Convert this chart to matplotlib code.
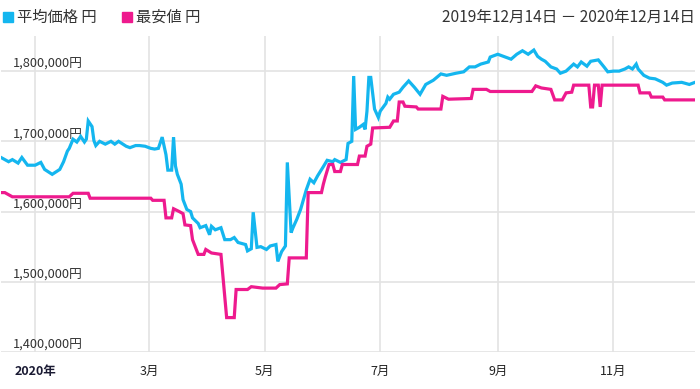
import matplotlib
matplotlib.use("Agg")
import matplotlib.pyplot as plt
import matplotlib.transforms as mtransforms
import pandas as pd

plt.rcParams['font.family'] = ['Noto Sans CJK JP', 'DejaVu Sans']

# 期間の開始日（日数はここからの経過日）
start = pd.Timestamp("2019-12-14")
end = pd.Timestamp("2020-12-14")

# 平均価格 (経過日, 千円)
avg_day = [0, 4, 6, 9, 11, 14, 18, 21, 23, 27, 31, 33, 35, 36, 38, 40, 42, 44, 45, 46,
           48, 49, 50, 52, 55, 58, 60, 62, 66, 68, 71, 73, 76, 79, 81, 83, 85, 87, 88, 90,
           91, 92, 93, 95, 96, 98, 100, 101, 104, 105, 108, 110, 111, 113, 116, 118, 121, 123, 125, 129,
           130, 132, 133, 135, 137, 140, 142, 145, 146, 148, 150, 151, 153, 154, 156, 158, 161, 163, 165, 167,
           170, 172, 175, 176, 179, 182, 183, 185, 186, 187, 189, 191, 192, 193, 194, 195, 197, 199, 200, 203,
           204, 205, 207, 210, 212, 215, 218, 221, 224, 228, 232, 235, 240, 244, 247, 250, 253, 257, 258, 262,
           265, 269, 272, 275, 278, 281, 283, 285, 287, 290, 293, 295, 298, 302, 304, 306, 309, 311, 315, 318,
           320, 323, 326, 329, 331, 333, 335, 336, 339, 342, 345, 349, 351, 354, 359, 363, 366]
avg_price = [1677, 1671, 1674, 1669, 1677, 1666, 1666, 1670, 1660, 1653, 1660, 1671, 1686, 1690, 1703, 1699, 1707, 1699, 1703, 1729,
             1721, 1701, 1694, 1700, 1696, 1700, 1696, 1700, 1693, 1691, 1694, 1694, 1693, 1690, 1689, 1690, 1706, 1681, 1659, 1659,
             1706, 1665, 1653, 1639, 1617, 1603, 1600, 1591, 1583, 1577, 1580, 1567, 1579, 1574, 1577, 1560, 1560, 1563, 1556, 1553,
             1544, 1547, 1599, 1549, 1550, 1546, 1551, 1553, 1529, 1543, 1551, 1670, 1570, 1577, 1589, 1603, 1631, 1646, 1641, 1651,
             1664, 1673, 1671, 1674, 1670, 1674, 1697, 1700, 1793, 1717, 1720, 1724, 1717, 1743, 1791, 1791, 1746, 1734, 1743, 1754,
             1763, 1760, 1767, 1770, 1777, 1786, 1777, 1767, 1781, 1787, 1796, 1794, 1797, 1799, 1806, 1806, 1810, 1813, 1820, 1824,
             1821, 1817, 1824, 1829, 1824, 1830, 1821, 1817, 1814, 1806, 1803, 1797, 1800, 1810, 1806, 1813, 1807, 1814, 1816, 1806,
             1799, 1800, 1800, 1803, 1806, 1803, 1810, 1803, 1794, 1790, 1789, 1784, 1780, 1783, 1784, 1781, 1784]

# 最安値 (経過日, 千円)
min_day = [0, 2, 4, 6, 36, 38, 46, 47, 79, 80, 86, 87, 90, 91, 94, 96, 97, 100, 101, 104,
           107, 108, 111, 116, 119, 123, 124, 130, 132, 138, 145, 147, 151, 152, 161, 162, 169, 170, 171, 173,
           175, 176, 179, 180, 188, 189, 192, 193, 195, 196, 205, 207, 209, 210, 212, 213, 219, 220, 232, 233,
           236, 248, 249, 256, 258, 280, 282, 285, 290, 292, 296, 298, 301, 302, 310, 311, 312, 313, 315, 316,
           317, 336, 337, 342, 343, 349, 350, 366]
min_price = [1627, 1627, 1624, 1621, 1621, 1626, 1626, 1619, 1619, 1616, 1616, 1591, 1591, 1604, 1600, 1597, 1581, 1580, 1560, 1539,
             1539, 1546, 1541, 1539, 1449, 1449, 1489, 1489, 1493, 1491, 1491, 1496, 1497, 1534, 1534, 1627, 1627, 1639, 1649, 1667,
             1667, 1657, 1657, 1667, 1667, 1679, 1679, 1693, 1696, 1719, 1720, 1729, 1729, 1756, 1756, 1750, 1749, 1746, 1746, 1764,
             1760, 1761, 1774, 1774, 1771, 1771, 1779, 1776, 1774, 1759, 1759, 1769, 1770, 1780, 1780, 1749, 1749, 1780, 1780, 1749,
             1780, 1780, 1769, 1769, 1763, 1763, 1759, 1759]

y_ticks = [1400000, 1500000, 1600000, 1700000, 1800000]
x_ticks = ["2020-01-01", "2020-03-01", "2020-05-01", "2020-07-01", "2020-09-01", "2020-11-01"]
x_labels = ["2020年", "3月", "5月", "7月", "9月", "11月"]

blue = '#14b6ef'
pink = '#ee1a8e'

avg_dates = start + pd.to_timedelta(avg_day, unit='D')
min_dates = start + pd.to_timedelta(min_day, unit='D')
avg_yen = [v * 1000 for v in avg_price]
min_yen = [v * 1000 for v in min_price]

fig = plt.figure(figsize=(7, 3.89), dpi=100)
ax = fig.add_axes([1 / 700, 37 / 389, 694 / 700, 316 / 389])

ax.plot(avg_dates, avg_yen, color=blue, lw=2.3, zorder=3, solid_joinstyle='miter')
ax.plot(min_dates, min_yen, color=pink, lw=2.3, zorder=3, solid_joinstyle='miter')

ax.set_xlim(start, end)
ax.set_ylim(1400000, 1850000)

# グリッド
ax.set_yticks(y_ticks)
ax.set_xticks(pd.to_datetime(x_ticks))
ax.grid(True, color='#e3e3e3', lw=1.2, zorder=0)
ax.tick_params(axis='both', length=0)
ax.set_yticklabels([])
ax.set_xticklabels(x_labels, fontsize=9, color='#222222')
ax.tick_params(axis='x', pad=9)
xl = ax.get_xticklabels()
xl[0].set_fontweight('bold')
xl[0].set_color('#1a1a33')
for s in ax.spines.values():
    s.set_visible(False)

# 縦軸ラベル（グラフ内）
trans = mtransforms.blended_transform_factory(ax.transAxes, ax.transData)
for v in y_ticks:
    ax.text(0.017, v, f"{v:,}円", transform=trans, fontsize=9.2, color='#333333',
            va='bottom', ha='left', zorder=2)

# 凡例
fig.patches.append(plt.Rectangle((3 / 700, 1 - 22 / 389), 10 / 700, 10 / 389,
                                 transform=fig.transFigure, color=blue))
fig.text(17 / 700, 1 - 17 / 389, "平均価格 円", fontsize=11, va='center', ha='left', color='#333333')
fig.patches.append(plt.Rectangle((122 / 700, 1 - 22 / 389), 10 / 700, 10 / 389,
                                 transform=fig.transFigure, color=pink))
fig.text(136 / 700, 1 - 17 / 389, "最安値 円", fontsize=11, va='center', ha='left', color='#333333')

fig.text(695 / 700, 1 - 17 / 389, "2019年12月14日 － 2020年12月14日", fontsize=11.2,
         va='center', ha='right', color='#333333')

fig.savefig("out.png", dpi=100, facecolor='white')
